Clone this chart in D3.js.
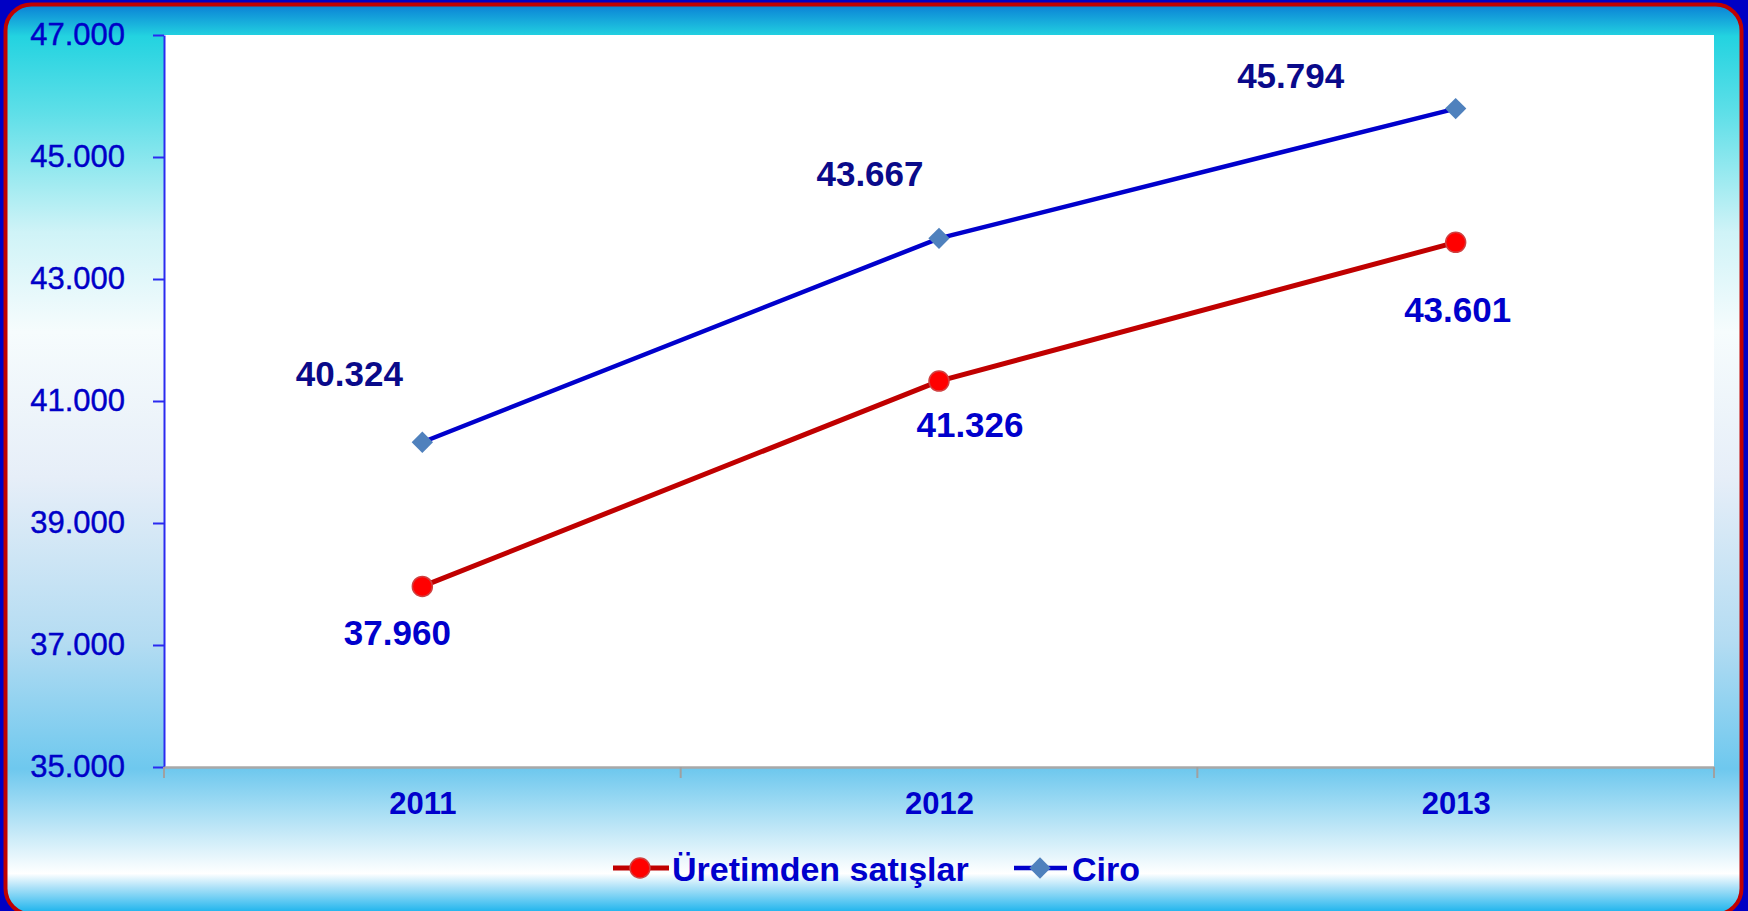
<!DOCTYPE html>
<html>
<head>
<meta charset="utf-8">
<script src="https://cdn.jsdelivr.net/npm/d3@7/dist/d3.min.js"></script>
<style>
    html, body { margin: 0; padding: 0; background: #0000c4; overflow: hidden; }
    svg { display: block; font-family: "Liberation Sans", Arial, sans-serif; }
</style>
</head>
<body>
<div id="chart"></div>
<script>
const years = ['2011', '2012', '2013'];
const seriesNames = ['Üretimden satışlar', 'Ciro'];
const uretimValues = [37960, 41326, 43601];
const ciroValues = [40324, 43667, 45794];
const yTicks = [35000, 37000, 39000, 41000, 43000, 45000, 47000];

function createChart() {
    const width = 1748;
    const height = 911;
    const margin = { top: 35, right: 34, bottom: 144, left: 164 };

    const trFormat = d3.formatLocale({ decimal: ',', thousands: '.', grouping: [3], currency: ['', ''] }).format(',');

    const svg = d3.select('#chart').append('svg')
        .attr('width', width)
        .attr('height', height);

    const defs = svg.append('defs');
    const grad = defs.append('linearGradient')
        .attr('id', 'bgGrad')
        .attr('x1', 0).attr('y1', 0).attr('x2', 0).attr('y2', 1);
    const stops = [
        [0, '#0a7fd6'], [0.035, '#23d3e0'], [0.12, '#5fdfe8'], [0.25, '#cff3f7'],
        [0.36, '#f6fcfd'], [0.52, '#e6eef8'], [0.7, '#b4dcf2'], [0.84, '#6ec8ee'],
        [0.9, '#b8e4f6'], [0.955, '#ffffff'], [0.97, '#aee2f8'], [1, '#10b0ec']
    ];
    grad.selectAll('stop')
        .data(stops)
        .enter().append('stop')
        .attr('offset', d => d[0])
        .attr('stop-color', d => d[1]);

    // outer frame
    svg.append('rect')
        .attr('x', 0).attr('y', 0)
        .attr('width', width).attr('height', height)
        .attr('fill', '#0000c4');
    svg.append('rect')
        .attr('x', 5.5).attr('y', 4.5)
        .attr('width', 1736).attr('height', 910)
        .attr('rx', 26).attr('ry', 26)
        .attr('fill', 'url(#bgGrad)')
        .attr('stroke', '#c00000')
        .attr('stroke-width', 4);

    const x0 = margin.left;
    const x1 = width - margin.right;
    const y0 = height - margin.bottom;
    const y1 = margin.top;

    svg.append('rect')
        .attr('x', x0).attr('y', y1)
        .attr('width', x1 - x0).attr('height', y0 - y1)
        .attr('fill', 'white');

    const xBand = d3.scaleBand().domain(years).range([x0, x1]);
    const xScale = d3.scalePoint().domain(years).range([x0, x1]).padding(0.5);
    const yScale = d3.scaleLinear().domain([35000, 47000]).range([y0, y1]);

    // y axis
    const yAxis = svg.append('g')
        .attr('transform', `translate(${x0},0)`)
        .call(d3.axisLeft(yScale).tickValues(yTicks).tickFormat(trFormat).tickSizeInner(11).tickSizeOuter(0).tickPadding(28));
    yAxis.select('.domain').attr('stroke', '#2a2af0').attr('stroke-width', 2);
    yAxis.selectAll('.tick line').attr('stroke', '#2a2af0').attr('stroke-width', 2);
    yAxis.selectAll('.tick text')
        .attr('fill', '#0000c8')
        .attr('font-size', 31)
        .attr('stroke', '#0000c8')
        .attr('stroke-width', 0.4)
        .attr('font-family', '"Liberation Sans", Arial, sans-serif');

    // x axis
    const xAxis = svg.append('g')
        .attr('transform', `translate(0,${y0})`)
        .call(d3.axisBottom(xScale).tickSize(0).tickPadding(25));
    xAxis.select('.domain').attr('stroke', '#a8a8a8').attr('stroke-width', 2.5);
    xAxis.selectAll('.tick text')
        .attr('fill', '#0000cc')
        .attr('font-size', 31)
        .attr('font-weight', 'bold')
        .attr('font-family', '"Liberation Sans", Arial, sans-serif');
    const bounds = years.map(d => xBand(d)).concat([x1]);
    xAxis.selectAll('.bound')
        .data(bounds)
        .enter().append('line')
        .attr('x1', d => d).attr('x2', d => d)
        .attr('y1', 0).attr('y2', 11)
        .attr('stroke', '#a0a0a0')
        .attr('stroke-width', 2);

    const line = d3.line()
        .x((d, i) => xScale(years[i]))
        .y(d => yScale(d));

    // Üretimden satışlar
    svg.append('path')
        .attr('d', line(uretimValues))
        .attr('fill', 'none')
        .attr('stroke', '#c00000')
        .attr('stroke-width', 5);
    svg.selectAll('.uretimDot')
        .data(uretimValues)
        .enter().append('circle')
        .attr('cx', (d, i) => xScale(years[i]))
        .attr('cy', d => yScale(d))
        .attr('r', 10)
        .attr('fill', '#ff0000')
        .attr('stroke', '#d04040')
        .attr('stroke-width', 1.5);

    // Ciro
    svg.append('path')
        .attr('d', line(ciroValues))
        .attr('fill', 'none')
        .attr('stroke', '#0000cc')
        .attr('stroke-width', 4.5);
    const diamond = d3.symbol().type(d3.symbolDiamond2).size(290);
    svg.selectAll('.ciroDot')
        .data(ciroValues)
        .enter().append('path')
        .attr('d', diamond)
        .attr('transform', (d, i) => `translate(${xScale(years[i])},${yScale(d)})`)
        .attr('fill', '#4f81bd');

    // data labels (offsets from the point, as placed in the original)
    const uretimOffsets = [[-25, 59], [31, 56], [2, 80]];
    const ciroOffsets = [[-73, -56], [-69, -52], [-165, -21]];

    svg.selectAll('.uretimLabel')
        .data(uretimValues)
        .enter().append('text')
        .attr('x', (d, i) => xScale(years[i]) + uretimOffsets[i][0])
        .attr('y', (d, i) => yScale(d) + uretimOffsets[i][1])
        .attr('text-anchor', 'middle')
        .attr('font-size', 35)
        .attr('font-weight', 'bold')
        .attr('fill', '#0000cc')
        .text(d => trFormat(d));

    svg.selectAll('.ciroLabel')
        .data(ciroValues)
        .enter().append('text')
        .attr('x', (d, i) => xScale(years[i]) + ciroOffsets[i][0])
        .attr('y', (d, i) => yScale(d) + ciroOffsets[i][1])
        .attr('text-anchor', 'middle')
        .attr('font-size', 35)
        .attr('font-weight', 'bold')
        .attr('fill', '#0a0a8a')
        .text(d => trFormat(d));

    // legend
    const legend = svg.append('g').attr('transform', 'translate(613,868)');
    legend.append('line')
        .attr('x1', 0).attr('x2', 56).attr('y1', 0).attr('y2', 0)
        .attr('stroke', '#c00000').attr('stroke-width', 5);
    legend.append('circle')
        .attr('cx', 27).attr('cy', 0).attr('r', 10)
        .attr('fill', '#ff0000').attr('stroke', '#d04040').attr('stroke-width', 1.5);
    legend.append('text')
        .attr('x', 59).attr('y', 13)
        .attr('font-size', 34).attr('font-weight', 'bold').attr('fill', '#0000cc')
        .text(seriesNames[0]);
    legend.append('line')
        .attr('x1', 401).attr('x2', 454).attr('y1', 0).attr('y2', 0)
        .attr('stroke', '#0000cc').attr('stroke-width', 4.5);
    legend.append('path')
        .attr('d', diamond)
        .attr('transform', 'translate(427,0)')
        .attr('fill', '#4f81bd');
    legend.append('text')
        .attr('x', 459).attr('y', 13)
        .attr('font-size', 34).attr('font-weight', 'bold').attr('fill', '#0000cc')
        .text(seriesNames[1]);
}

createChart();
</script>
</body>
</html>
